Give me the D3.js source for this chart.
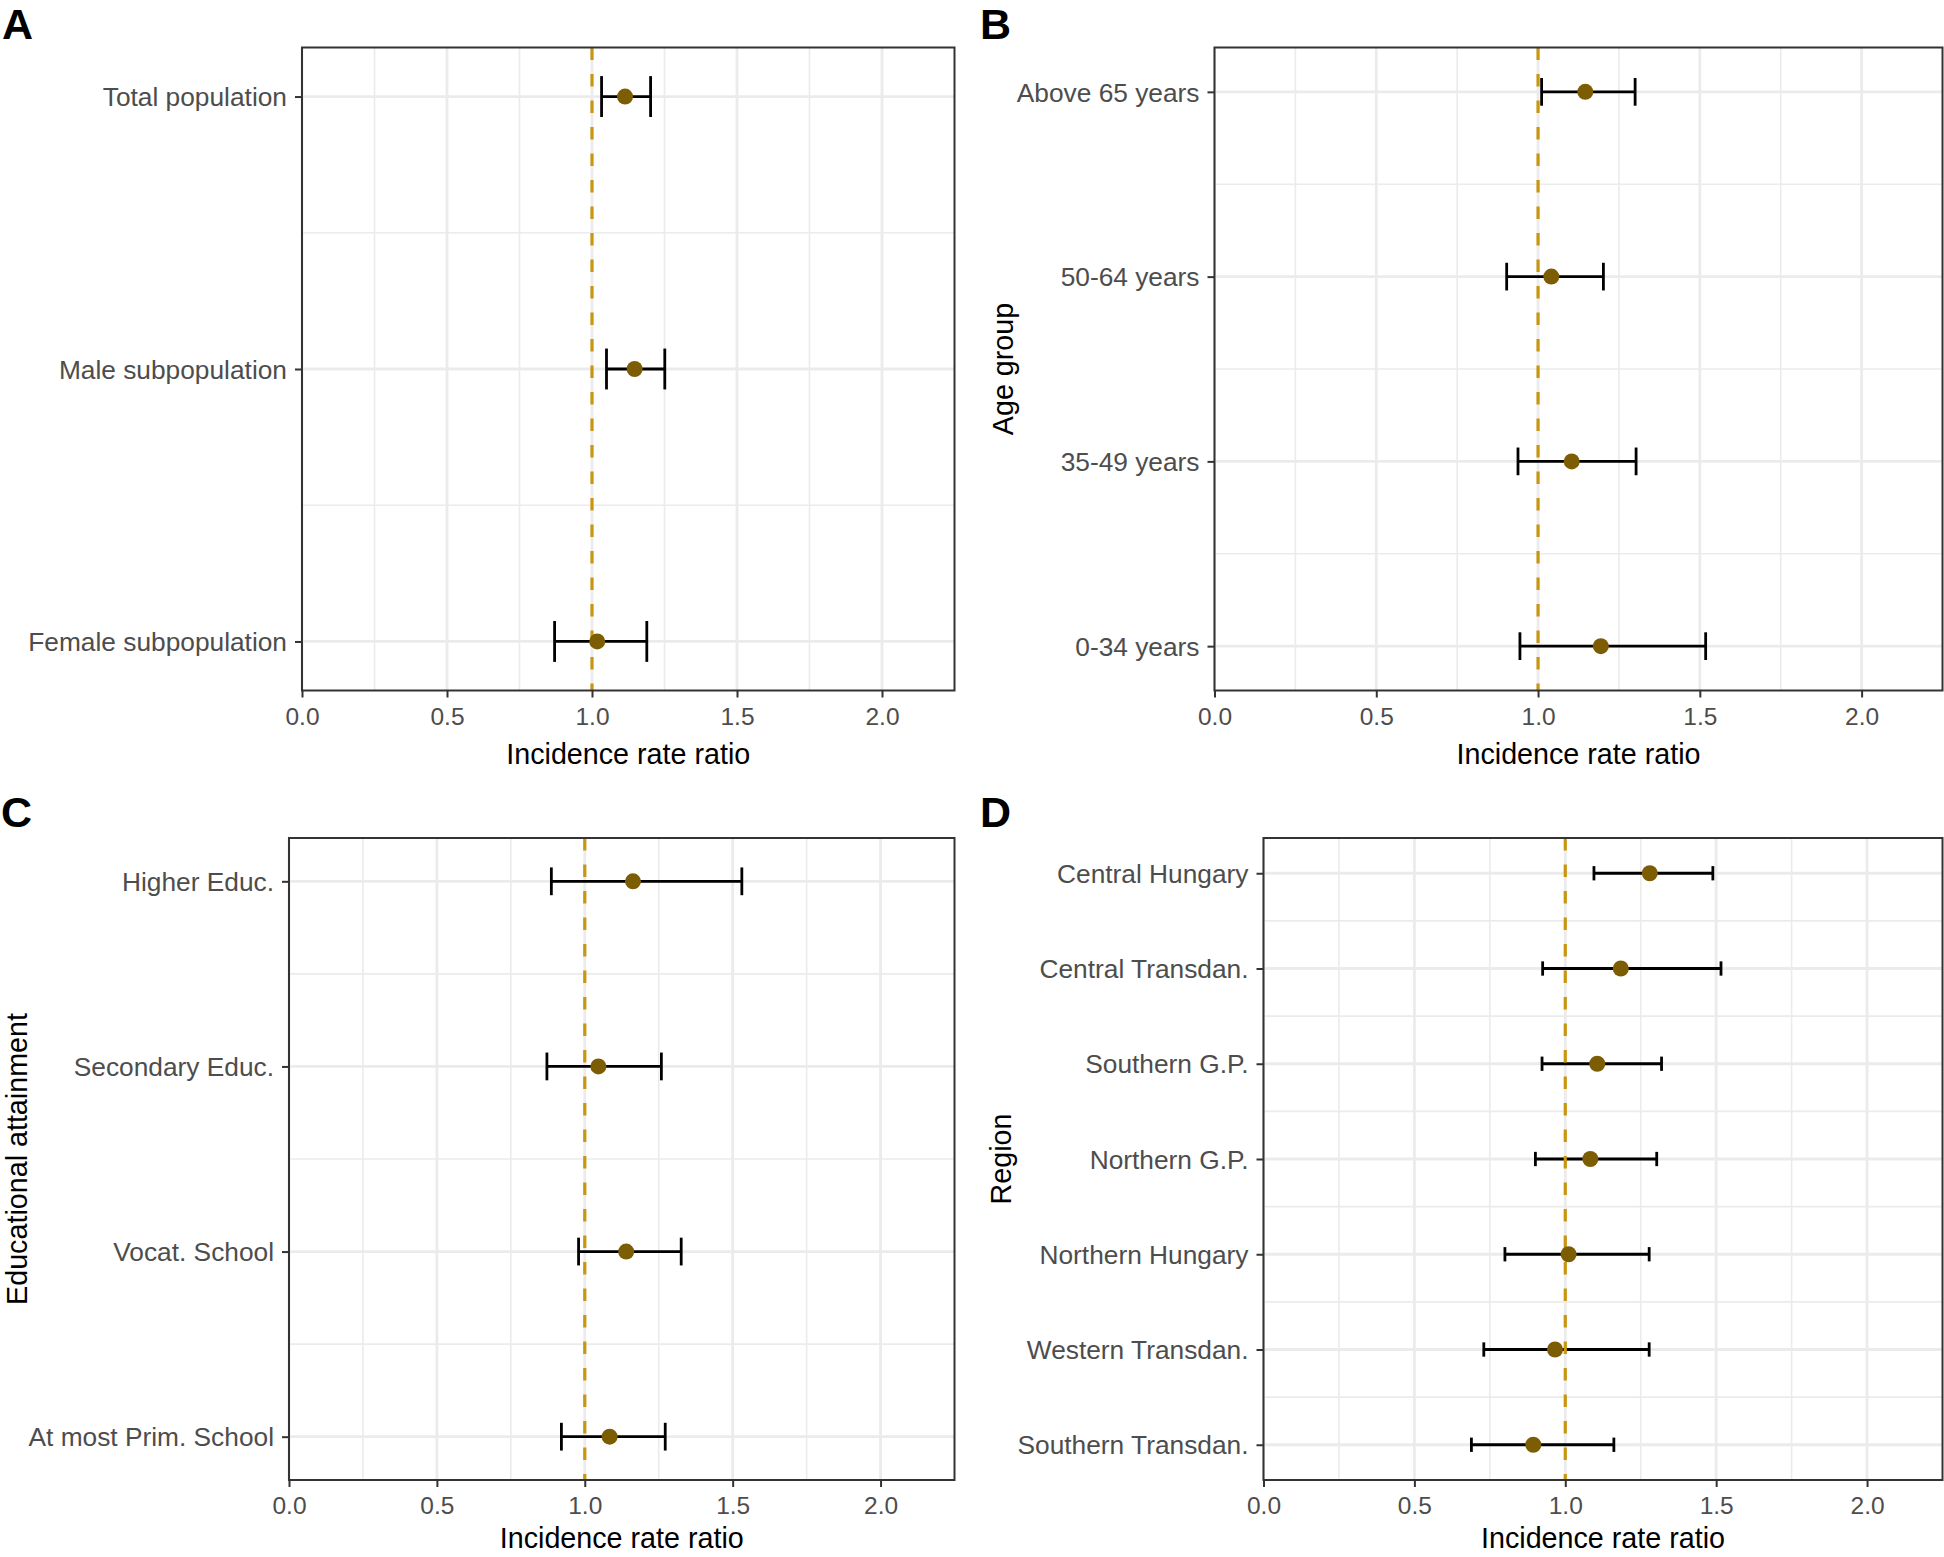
<!DOCTYPE html>
<html>
<head>
<meta charset="utf-8">
<script src="https://cdn.jsdelivr.net/npm/d3@7"></script>
<style>
  html, body { margin: 0; padding: 0; background: #ffffff; }
  svg { display: block; font-family: "Liberation Sans", Arial, sans-serif; }
</style>
</head>
<body>
<svg id="chart" width="1944" height="1557"></svg>
<script>
// ---------------- DATA ----------------
const xTickValues = [0, 0.5, 1.0, 1.5, 2.0];
const xLabel = "Incidence rate ratio";
const referenceValue = 1.0;

const catsA = ["Total population", "Male subpopulation", "Female subpopulation"];
const irrA = [1.114, 1.147, 1.018];
const lowA = [1.033, 1.050, 0.871];
const highA = [1.202, 1.251, 1.189];

const catsB = ["Above 65 years", "50-64 years", "35-49 years", "0-34 years"];
const irrB = [1.146, 1.041, 1.104, 1.194];
const lowB = [1.011, 0.903, 0.938, 0.944];
const highB = [1.300, 1.202, 1.303, 1.518];

const catsC = ["Higher Educ.", "Secondary Educ.", "Vocat. School", "At most Prim. School"];
const irrC = [1.163, 1.046, 1.140, 1.084];
const lowC = [0.887, 0.872, 0.979, 0.921];
const highC = [1.531, 1.259, 1.326, 1.272];

const catsD = ["Central Hungary", "Central Transdan.", "Southern G.P.", "Northern G.P.",
               "Northern Hungary", "Western Transdan.", "Southern Transdan."];
const irrD = [1.280, 1.184, 1.106, 1.083, 1.011, 0.966, 0.894];
const lowD = [1.095, 0.925, 0.923, 0.901, 0.800, 0.730, 0.689];
const highD = [1.489, 1.516, 1.319, 1.303, 1.278, 1.278, 1.161];

// ---------------- LAYOUT ----------------
const panels = [
  { letter: "A", cats: catsA, irr: irrA, low: lowA, high: highA, yTitle: null,
    left: 302, right: 954.5, top: 47.5, bottom: 690.5, pad: 0.18,
    letterX: 2, letterY: 39, yTitleX: null, xTitleY: 764 },
  { letter: "B", cats: catsB, irr: irrB, low: lowB, high: highB, yTitle: "Age group",
    left: 1214.5, right: 1942.5, top: 47.5, bottom: 690.5, pad: 0.24,
    letterX: 980, letterY: 39, yTitleX: 1013, xTitleY: 764 },
  { letter: "C", cats: catsC, irr: irrC, low: lowC, high: highC, yTitle: "Educational attainment",
    left: 289, right: 954.5, top: 838, bottom: 1480, pad: 0.234,
    letterX: 1, letterY: 827, yTitleX: 27, xTitleY: 1548 },
  { letter: "D", cats: catsD, irr: irrD, low: lowD, high: highD, yTitle: "Region",
    left: 1263.5, right: 1942.5, top: 838, bottom: 1480, pad: 0.37,
    letterX: 980, letterY: 827, yTitleX: 1011, xTitleY: 1548 }
];

const svg = d3.select("#chart");
const gridCol = "#EBEBEB";
const borderCol = "#333333";
const tickTextCol = "#4D4D4D";
const pointCol = "#7D5D04";
const refCol = "#C8960F";

panels.forEach(p => {
  const x = d3.scaleLinear().domain([0, 2.25]).range([p.left, p.right]);
  const y = d3.scalePoint().domain(p.cats).range([p.top, p.bottom]).padding(p.pad);
  const step = y.step();
  const g = svg.append("g");

  // minor vertical grid
  const minorX = [0.25, 0.75, 1.25, 1.75];
  g.selectAll(".vminor").data(minorX).enter().append("line")
    .attr("x1", d => x(d)).attr("x2", d => x(d))
    .attr("y1", p.top).attr("y2", p.bottom)
    .attr("stroke", gridCol).attr("stroke-width", 1.6);
  // minor horizontal grid (midpoints)
  const mids = p.cats.slice(1).map((c, i) => (y(c) + y(p.cats[i])) / 2);
  g.selectAll(".hminor").data(mids).enter().append("line")
    .attr("x1", p.left).attr("x2", p.right)
    .attr("y1", d => d).attr("y2", d => d)
    .attr("stroke", gridCol).attr("stroke-width", 1.6);
  // major vertical grid
  g.selectAll(".vmajor").data(xTickValues).enter().append("line")
    .attr("x1", d => x(d)).attr("x2", d => x(d))
    .attr("y1", p.top).attr("y2", p.bottom)
    .attr("stroke", gridCol).attr("stroke-width", 2.8);
  // major horizontal grid
  g.selectAll(".hmajor").data(p.cats).enter().append("line")
    .attr("x1", p.left).attr("x2", p.right)
    .attr("y1", d => y(d)).attr("y2", d => y(d))
    .attr("stroke", gridCol).attr("stroke-width", 2.8);

  // error bars
  const rows = p.cats.map((c, i) => ({ c, v: p.irr[i], lo: p.low[i], hi: p.high[i] }));
  const capH = step * 0.15;
  const eb = g.selectAll(".eb").data(rows).enter().append("g");
  eb.append("line")
    .attr("x1", d => x(d.lo)).attr("x2", d => x(d.hi))
    .attr("y1", d => y(d.c)).attr("y2", d => y(d.c))
    .attr("stroke", "#000").attr("stroke-width", 2.8);
  eb.append("line")
    .attr("x1", d => x(d.lo)).attr("x2", d => x(d.lo))
    .attr("y1", d => y(d.c) - capH / 2).attr("y2", d => y(d.c) + capH / 2)
    .attr("stroke", "#000").attr("stroke-width", 2.8);
  eb.append("line")
    .attr("x1", d => x(d.hi)).attr("x2", d => x(d.hi))
    .attr("y1", d => y(d.c) - capH / 2).attr("y2", d => y(d.c) + capH / 2)
    .attr("stroke", "#000").attr("stroke-width", 2.8);

  // reference line
  g.append("line")
    .attr("x1", x(referenceValue)).attr("x2", x(referenceValue))
    .attr("y1", p.top).attr("y2", p.bottom)
    .attr("stroke", refCol).attr("stroke-width", 3.2)
    .attr("stroke-dasharray", "12.5,14");

  // points
  g.selectAll(".pt").data(rows).enter().append("circle")
    .attr("cx", d => x(d.v)).attr("cy", d => y(d.c)).attr("r", 8)
    .attr("fill", pointCol);

  // border
  g.append("rect")
    .attr("x", p.left).attr("y", p.top)
    .attr("width", p.right - p.left).attr("height", p.bottom - p.top)
    .attr("fill", "none").attr("stroke", borderCol).attr("stroke-width", 2);

  // x axis
  const xAxis = d3.axisBottom(x).tickValues(xTickValues).tickFormat(d3.format(".1f"))
    .tickSize(7).tickPadding(8);
  const xg = g.append("g").attr("transform", `translate(0,${p.bottom})`).call(xAxis);
  xg.select(".domain").remove();
  xg.selectAll(".tick line").attr("stroke", borderCol).attr("stroke-width", 2);
  xg.selectAll(".tick text").attr("fill", tickTextCol)
    .attr("font-size", 24.5).attr("font-family", "Liberation Sans, Arial, sans-serif")
    .attr("dy", null).attr("y", 34).attr("dominant-baseline", "alphabetic");

  // y axis
  const yAxis = d3.axisLeft(y).tickSize(7).tickPadding(7);
  const yg = g.append("g").attr("transform", `translate(${p.left},0)`).call(yAxis);
  yg.select(".domain").remove();
  yg.selectAll(".tick line").attr("stroke", borderCol).attr("stroke-width", 2);
  yg.selectAll(".tick text").attr("fill", tickTextCol)
    .attr("font-size", 26.3).attr("font-family", "Liberation Sans, Arial, sans-serif")
    .attr("x", -15).attr("dy", "0.35em");

  // x title
  g.append("text")
    .attr("x", (p.left + p.right) / 2).attr("y", p.xTitleY)
    .attr("text-anchor", "middle").attr("font-size", 28.7).attr("fill", "#000")
    .text(xLabel);

  // y title
  if (p.yTitle) {
    const cy = (p.top + p.bottom) / 2;
    g.append("text")
      .attr("transform", `translate(${p.yTitleX},${cy}) rotate(-90)`)
      .attr("text-anchor", "middle").attr("font-size", 28.7).attr("fill", "#000")
      .text(p.yTitle);
  }

  // panel letter
  g.append("text")
    .attr("x", p.letterX).attr("y", p.letterY)
    .attr("font-size", 43).attr("font-weight", "bold").attr("fill", "#000")
    .text(p.letter);
});
</script>
</body>
</html>
